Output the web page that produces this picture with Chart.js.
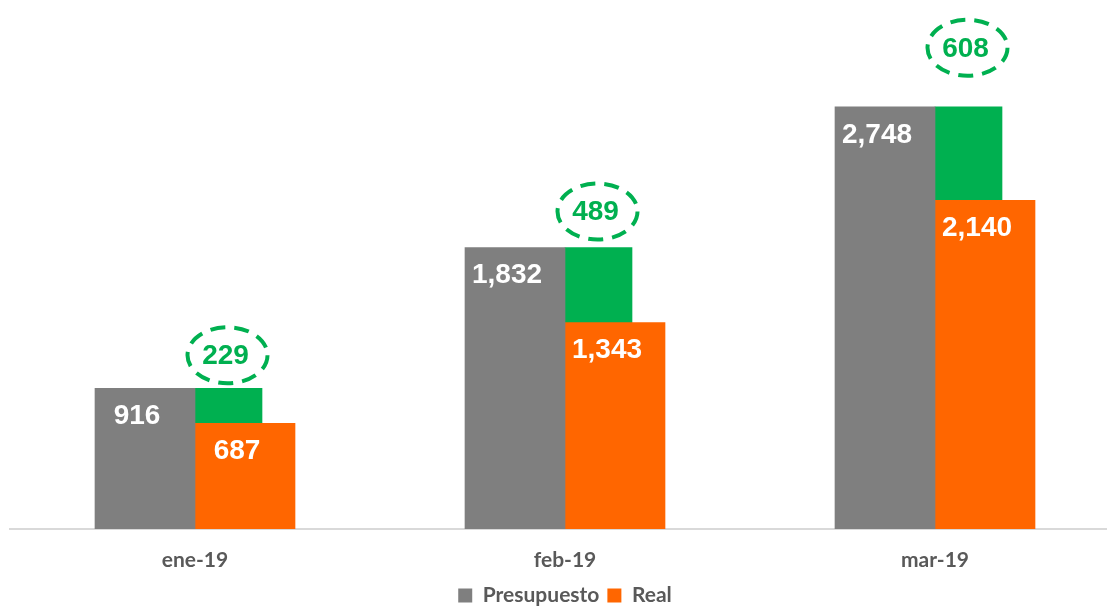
<!DOCTYPE html>
<html lang="es">
  <head>
    <meta charset="UTF-8" />
    <title>Presupuesto vs Real</title>
    <script src="https://cdn.jsdelivr.net/npm/chart.js"></script>
    <style>
      html, body { margin: 0; padding: 0; background: #ffffff; overflow: hidden; }
      .grafico { position: relative; width: 1120px; height: 606px; }
    </style>
  </head>
  <body>
    <div class="grafico">
      <canvas id="myChart"></canvas>
    </div>

    <script>
      var meses = ["ene-19", "feb-19", "mar-19"];
      var presupuesto = [916, 1832, 2748];
      var real = [687, 1343, 2140];
      var diferencia = [229, 489, 608];

      var gris = "#7f7f7f";
      var naranja = "#ff6600";
      var verde = "#00b050";
      var fuenteEje = "Lato, 'Open Sans', sans-serif";

      // ancho de cada categoria en px y anchos de barra
      var anchoCategoria = 370;
      var anchoBarra = 100;
      var anchoVerde = 67;

      // cada serie va en su propio eje lineal oculto; px = cuanto se corre
      // el centro de la barra respecto al centro de la categoria
      function ejeCorrido(px) {
        var d = px / anchoCategoria;
        return {
          type: "linear",
          display: false,
          offset: false,
          min: -0.5 - d,
          max: meses.length - 0.5 - d,
          grid: { display: false },
        };
      }

      var puntosPresupuesto = [];
      var puntosReal = [];
      var puntosDiferencia = [];
      for (var i = 0; i < meses.length; i++) {
        puntosPresupuesto.push({ x: i, y: presupuesto[i] });
        puntosReal.push({ x: i, y: real[i] });
        // barra verde flotante: desde el real hasta el presupuesto
        puntosDiferencia.push({ x: i, y: [real[i], real[i] + diferencia[i]] });
      }

      function formato(n) {
        return n.toLocaleString("en-US");
      }

      // etiquetas blancas dentro de las barras y globos verdes arriba
      var etiquetas = {
        id: "etiquetas",
        afterDatasetsDraw(chart, args, opts) {
          var ctx = chart.ctx;
          ctx.save();
          ctx.textAlign = "center";
          ctx.textBaseline = "middle";
          ctx.font = "bold 28px 'Liberation Sans', Arial, sans-serif";
          ctx.fillStyle = "#ffffff";
          [presupuesto, real].forEach(function (datos, d) {
            var meta = chart.getDatasetMeta(d);
            meta.data.forEach(function (bar, i) {
              ctx.fillText(formato(datos[i]), bar.x - 8, bar.y + 28);
            });
          });

          var metaVerde = chart.getDatasetMeta(2);
          metaVerde.data.forEach(function (bar, i) {
            var cx = bar.x - 1;
            var cy = bar.y - opts.subida[i];
            ctx.beginPath();
            ctx.setLineDash([15, 9]);
            ctx.lineWidth = 4;
            ctx.strokeStyle = verde;
            ctx.ellipse(cx, cy, 40, 28, 0, 0, Math.PI * 2);
            ctx.stroke();
            ctx.setLineDash([]);
            ctx.fillStyle = verde;
            ctx.fillText(formato(diferencia[i]), cx - 2, cy + 1);
          });
          ctx.restore();
        },
      };

      new Chart(document.getElementById("myChart"), {
        type: "bar",
        data: {
          labels: meses,
          datasets: [
            {
              label: "Presupuesto",
              data: puntosPresupuesto,
              backgroundColor: gris,
              xAxisID: "xp",
              grouped: false,
              barThickness: anchoBarra,
            },
            {
              label: "Real",
              data: puntosReal,
              backgroundColor: naranja,
              xAxisID: "xr",
              grouped: false,
              barThickness: anchoBarra,
            },
            {
              label: "Diferencia",
              data: puntosDiferencia,
              backgroundColor: verde,
              xAxisID: "xd",
              grouped: false,
              barThickness: anchoVerde,
            },
          ],
        },
        options: {
          responsive: true,
          maintainAspectRatio: false,
          animation: false,
          layout: { padding: { top: 22, left: 10, right: 0, bottom: -10 } },
          plugins: {
            tooltip: { enabled: false },
            etiquetas: { subida: [33, 36, 59] },
            legend: {
              position: "bottom",
              labels: {
                boxWidth: 14,
                boxHeight: 14,
                padding: 8,
                color: "#595959",
                font: { family: fuenteEje, size: 21, weight: "bold" },
                filter: function (item) {
                  return item.datasetIndex < 2;
                },
              },
            },
          },
          scales: {
            x: {
              type: "category",
              grid: { display: false },
              border: { display: true, color: "#d9d9d9", width: 2 },
              ticks: {
                color: "#595959",
                padding: 11,
                font: { family: fuenteEje, size: 21, weight: "bold" },
              },
              afterFit: function (scale) {
                scale.height = 48;
              },
            },
            xp: ejeCorrido(-anchoBarra / 2),
            xr: ejeCorrido(anchoBarra / 2),
            xd: ejeCorrido(anchoVerde / 2),
            y: {
              display: false,
              stacked: false,
              min: 0,
              max: 3300,
            },
          },
        },
        plugins: [etiquetas],
      });
    </script>
  </body>
</html>
